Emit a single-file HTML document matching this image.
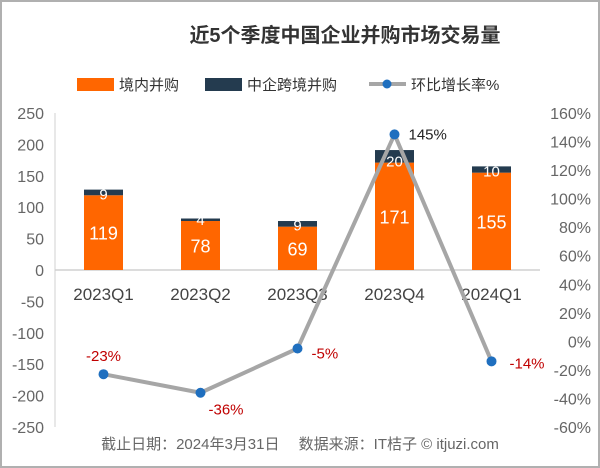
<!DOCTYPE html>
<html><head><meta charset="utf-8"><style>
body{margin:0;background:#fff}
svg{display:block;font-family:"Liberation Sans","Noto Sans CJK SC",sans-serif}
</style></head><body>
<svg id="c" width="600" height="468" viewBox="0 0 600 468" xmlns="http://www.w3.org/2000/svg">
<rect x="1" y="1" width="598" height="466" fill="#fff" stroke="#b0b0b0" stroke-width="2"/>
<text x="345" y="42" text-anchor="middle" font-size="20" font-weight="bold" fill="#333">近5个季度中国企业并购市场交易量</text>
<g>
<g><rect x="77" y="78" width="37" height="13" fill="#ff6600"/><text x="119" y="90" font-size="15" fill="#333">境内并购</text></g>
<g><rect x="205" y="78" width="37" height="13" fill="#243b4f"/><text x="247" y="90" font-size="15" fill="#333">中企跨境并购</text></g>
<g><line x1="369" y1="84" x2="406" y2="84" stroke="#a6a6a6" stroke-width="4"/><circle cx="387" cy="84" r="4.5" fill="#1f6fbf"/><text x="411" y="90" font-size="15" fill="#333">环比增长率%</text></g>
</g>
<g id="axes"></g><g id="bars"></g><g id="line"></g>
<text x="300" y="449" text-anchor="middle" font-size="15" fill="#666">截止日期：2024年3月31日　 数据来源：IT桔子 © itjuzi.com</text>
</svg>
<script>
const categories=["2023Q1","2023Q2","2023Q3","2023Q4","2024Q1"];
const domestic=[119,78,69,171,155];
const crossBorder=[9,4,9,20,10];
const growth=[-23,-36,-5,145,-14];
const leftTicks=[250,200,150,100,50,0,-50,-100,-150,-200,-250];
const rightTicks=[160,140,120,100,80,60,40,20,0,-20,-40,-60];
const NS="http://www.w3.org/2000/svg";
const px0=55,px1=540,pTop=113,pBot=427;
const yL=v=>pTop+(250-v)/500*(pBot-pTop);
const yR=v=>pTop+(160-v)/220*(pBot-pTop);
const bw=(px1-px0)/categories.length;
const xC=i=>px0+bw*(i+0.5);
function mk(tag,attrs,parent,text){const e=document.createElementNS(NS,tag);for(const k in attrs)e.setAttribute(k,attrs[k]);if(text!==undefined)e.textContent=text;parent.appendChild(e);return e;}
const ax=document.getElementById('axes'),bars=document.getElementById('bars'),ln=document.getElementById('line');
let e=mk('line',{x1:px0,y1:pTop,x2:px0,y2:pBot,stroke:'#e0e0e0','stroke-width':1.5},ax);


leftTicks.forEach(t=>{const l=mk('text',{x:44,y:yL(t)+6,'text-anchor':'end','font-size':16,fill:'#666'},ax,String(t));

});
rightTicks.forEach(t=>{const l=mk('text',{x:591,y:yR(t)+6,'text-anchor':'end','font-size':16,fill:'#666'},ax,t+'%');

});
e=mk('line',{x1:px0,y1:yL(0),x2:px1,y2:yL(0),stroke:'#d0d0d0','stroke-width':1.5},ax);


categories.forEach((c,i)=>{const l=mk('text',{x:xC(i),y:yL(0)+30,'text-anchor':'middle','font-size':17,fill:'#444'},ax,c);

});
const w=39;
categories.forEach((c,i)=>{
 const cx=xC(i);
 let r=mk('rect',{x:cx-w/2,y:yL(domestic[i]),width:w,height:yL(0)-yL(domestic[i]),fill:'#ff6600'},bars);
 
 
 r=mk('rect',{x:cx-w/2,y:yL(domestic[i]+crossBorder[i]),width:w,height:yL(domestic[i])-yL(domestic[i]+crossBorder[i]),fill:'#243b4f'},bars);
 
 
 let t=mk('text',{x:cx,y:(yL(0)+yL(domestic[i]))/2+7,'text-anchor':'middle','font-size':18,fill:'#fff'},bars,String(domestic[i]));
 
 
 t=mk('text',{x:cx,y:yL(domestic[i])+4,'text-anchor':'middle','font-size':15,fill:'#fff'},bars,String(crossBorder[i]));
 
 
});
const pts=growth.map((g,i)=>xC(i)+','+yR(g)).join(' ');
e=mk('polyline',{points:pts,fill:'none',stroke:'#a6a6a6','stroke-width':4,'stroke-linejoin':'round'},ln);


const off=[[0,-13],[8,22],[14,10],[14,5],[18,7]];
growth.forEach((g,i)=>{
 const c=mk('circle',{cx:xC(i),cy:yR(g),r:5,fill:'#1f6fbf'},ln);
 
 
 const t=mk('text',{x:xC(i)+off[i][0],y:yR(g)+off[i][1],'text-anchor':i===0?'middle':'start','font-size':15,fill:g<0?'#c00000':'#222'},ln,g+'%');
 
 
});
</script>
</body></html>
